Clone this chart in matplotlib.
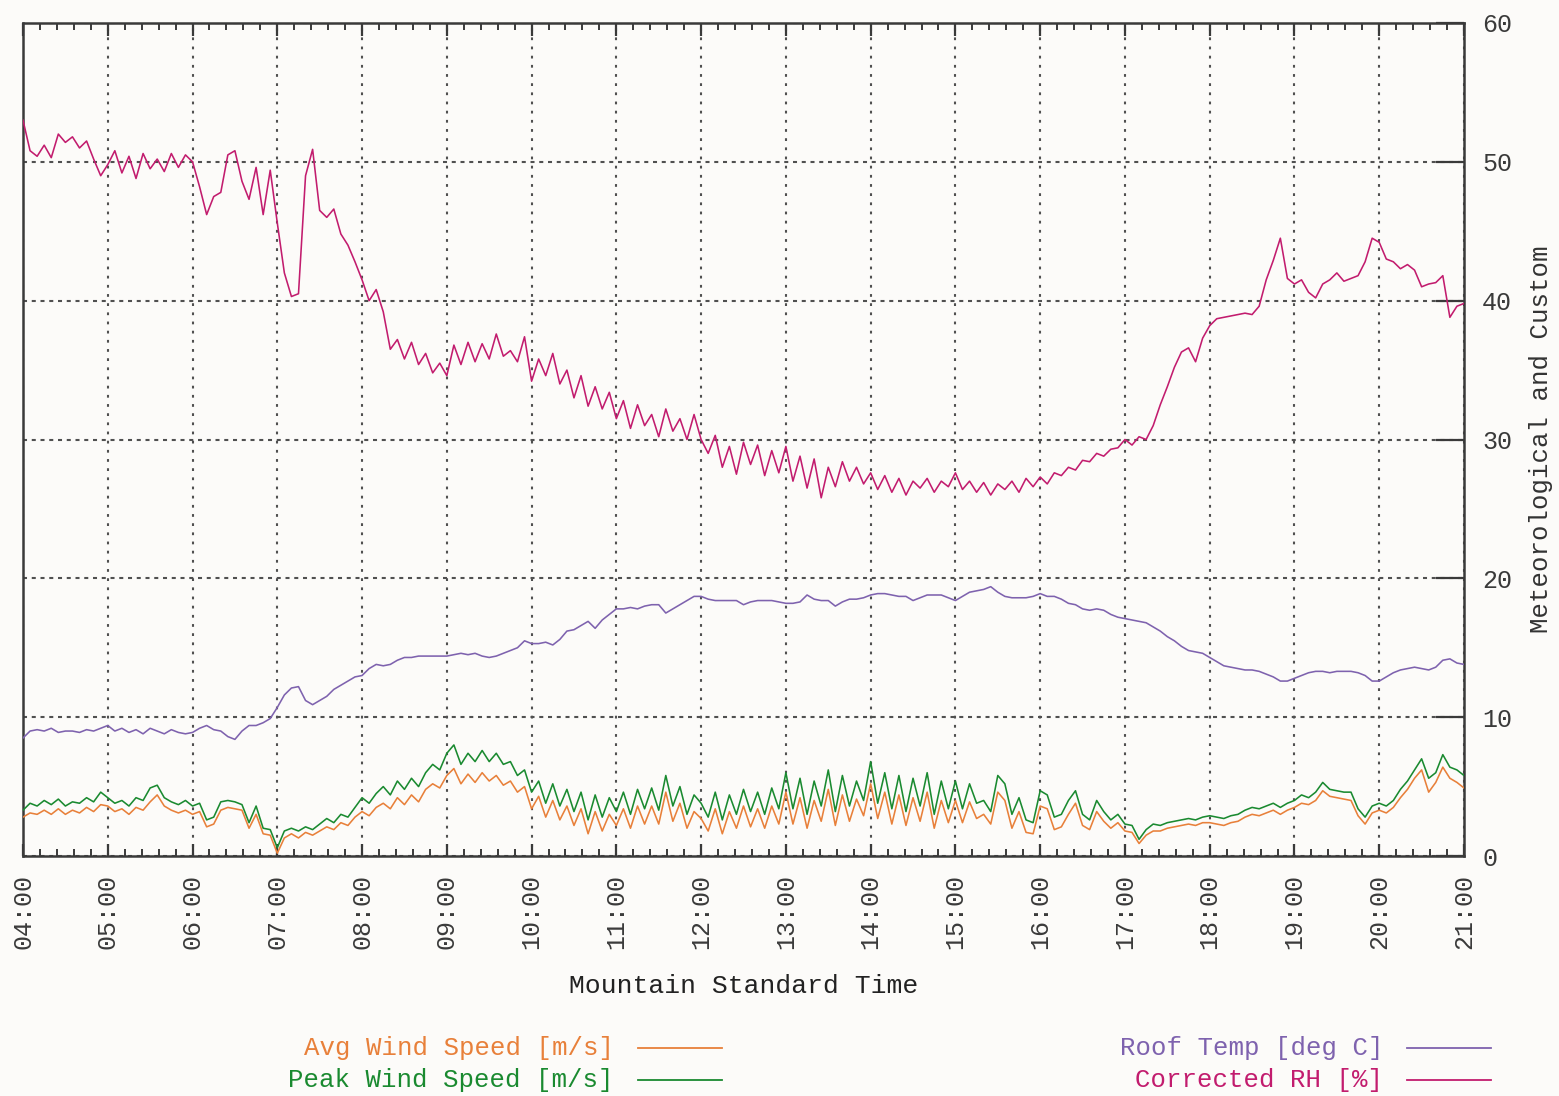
import numpy as np
import matplotlib
matplotlib.use("Agg")
import matplotlib.pyplot as plt
from matplotlib.lines import Line2D

# ---- data: 5-minute samples from 04:00 to 21:00 (Mountain Standard Time) ----
start_hour = 4
step_min = 5

corrected_rh = [
    53.0, 50.8, 50.4, 51.2, 50.3, 52.0, 51.4, 51.8, 51.0, 51.5, 50.2, 49.0,
    49.8, 50.8, 49.2, 50.4, 48.8, 50.6, 49.5, 50.2, 49.3, 50.6, 49.6, 50.5,
    50.0, 48.2, 46.2, 47.5, 47.8, 50.5, 50.8, 48.6, 47.3, 49.6, 46.2, 49.4,
    45.6, 42.0, 40.3, 40.5, 49.0, 50.9, 46.5, 46.0, 46.6, 44.8, 44.0, 42.8,
    41.5, 40.0, 40.8, 39.2, 36.5, 37.2, 35.8, 37.0, 35.4, 36.2, 34.8, 35.5,
    34.6, 36.8, 35.4, 37.0, 35.6, 36.9, 35.8, 37.6, 36.0, 36.4, 35.6, 37.4,
    34.2, 35.8, 34.6, 36.2, 34.0, 35.0, 33.0, 34.6, 32.4, 33.8, 32.2, 33.4,
    31.5, 32.8, 30.8, 32.5, 31.0, 31.8, 30.2, 32.2, 30.6, 31.5, 30.0, 31.8,
    30.0, 29.0, 30.3, 28.0, 29.5, 27.5, 29.8, 28.2, 29.6, 27.4, 29.2, 27.6,
    29.5, 27.0, 28.8, 26.5, 28.6, 25.8, 28.0, 26.6, 28.4, 27.0, 28.0, 26.8,
    27.6, 26.4, 27.4, 26.2, 27.2, 26.0, 27.0, 26.5, 27.2, 26.2, 27.0, 26.6,
    27.6, 26.4, 27.0, 26.2, 26.9, 26.0, 26.8, 26.4, 27.0, 26.2, 27.2, 26.6,
    27.3, 26.8, 27.6, 27.4, 28.0, 27.8, 28.5, 28.4, 29.0, 28.8, 29.3, 29.4,
    30.0, 29.6, 30.2, 30.0, 31.0, 32.5, 33.8, 35.2, 36.3, 36.6, 35.6, 37.3,
    38.2, 38.7, 38.8, 38.9, 39.0, 39.1, 39.0, 39.6, 41.5, 42.9, 44.5, 41.6,
    41.2, 41.5, 40.6, 40.2, 41.2, 41.5, 42.0, 41.4, 41.6, 41.8, 42.8, 44.5,
    44.2, 43.0, 42.8, 42.3, 42.6, 42.2, 41.0, 41.2, 41.3, 41.8, 38.8, 39.6,
    39.8,
]

roof_temp = [
    8.5, 9.0, 9.1, 9.0, 9.2, 8.9, 9.0, 9.0, 8.9, 9.1, 9.0, 9.2,
    9.4, 9.0, 9.2, 8.9, 9.1, 8.8, 9.2, 9.0, 8.8, 9.1, 8.9, 8.8,
    8.9, 9.2, 9.4, 9.1, 9.0, 8.6, 8.4, 9.0, 9.4, 9.4, 9.6, 9.9,
    10.7, 11.6, 12.1, 12.2, 11.2, 10.9, 11.2, 11.5, 12.0, 12.3, 12.6, 12.9,
    13.0, 13.5, 13.8, 13.7, 13.8, 14.1, 14.3, 14.3, 14.4, 14.4, 14.4, 14.4,
    14.4, 14.5, 14.6, 14.5, 14.6, 14.4, 14.3, 14.4, 14.6, 14.8, 15.0, 15.5,
    15.3, 15.3, 15.4, 15.2, 15.6, 16.2, 16.3, 16.6, 16.9, 16.4, 17.0, 17.4,
    17.8, 17.8, 17.9, 17.8, 18.0, 18.1, 18.1, 17.5, 17.8, 18.1, 18.4, 18.7,
    18.7, 18.5, 18.4, 18.4, 18.4, 18.4, 18.1, 18.3, 18.4, 18.4, 18.4, 18.3,
    18.2, 18.2, 18.3, 18.8, 18.5, 18.4, 18.4, 18.0, 18.3, 18.5, 18.5, 18.6,
    18.8, 18.9, 18.9, 18.8, 18.7, 18.7, 18.4, 18.6, 18.8, 18.8, 18.8, 18.6,
    18.4, 18.7, 19.0, 19.1, 19.2, 19.4, 19.0, 18.7, 18.6, 18.6, 18.6, 18.7,
    18.9, 18.7, 18.7, 18.5, 18.2, 18.1, 17.8, 17.7, 17.8, 17.7, 17.4, 17.2,
    17.1, 17.0, 16.9, 16.8, 16.5, 16.2, 15.8, 15.5, 15.1, 14.8, 14.7, 14.6,
    14.3, 14.0, 13.7, 13.6, 13.5, 13.4, 13.4, 13.3, 13.1, 12.9, 12.6, 12.6,
    12.8, 13.0, 13.2, 13.3, 13.3, 13.2, 13.3, 13.3, 13.3, 13.2, 13.0, 12.6,
    12.6, 12.9, 13.2, 13.4, 13.5, 13.6, 13.5, 13.4, 13.6, 14.1, 14.2, 13.9,
    13.8,
]

peak_wind = [
    3.3, 3.8, 3.6, 4.0, 3.7, 4.1, 3.6, 3.9, 3.8, 4.2, 3.9, 4.6,
    4.2, 3.8, 4.0, 3.6, 4.2, 4.0, 4.9, 5.1, 4.2, 3.9, 3.7, 4.0,
    3.6, 3.8, 2.6, 2.8, 3.9, 4.0, 3.9, 3.7, 2.4, 3.6, 2.0, 1.9,
    0.6, 1.8, 2.0, 1.8, 2.1, 1.9, 2.3, 2.7, 2.4, 3.0, 2.8, 3.5,
    4.2, 3.8, 4.5, 5.0, 4.4, 5.4, 4.8, 5.6, 5.0, 6.0, 6.6, 6.2,
    7.4, 8.0, 6.6, 7.4, 6.8, 7.6, 6.8, 7.4, 6.6, 6.8, 5.8, 6.2,
    4.6, 5.4, 3.8, 5.2, 3.6, 4.8, 3.2, 4.6, 2.6, 4.4, 2.8, 4.2,
    3.2, 4.6, 3.0, 4.8, 3.4, 4.9, 3.3, 5.8, 3.6, 5.0, 3.0, 4.4,
    3.8, 2.8, 4.6, 2.6, 4.4, 3.0, 4.8, 3.2, 4.6, 3.0, 4.9, 3.4,
    6.0, 3.4, 5.6, 3.0, 5.4, 3.6, 6.2, 3.2, 5.8, 3.6, 5.4, 4.0,
    6.8, 3.8, 6.0, 3.4, 5.8, 3.2, 5.6, 3.6, 6.0, 3.0, 5.4, 3.4,
    5.4, 3.4, 5.2, 3.8, 4.0, 3.2, 5.8, 5.2, 3.0, 4.2, 2.6, 2.4,
    4.7, 4.4, 2.8, 3.0, 4.0, 4.7, 3.0, 2.6, 4.0, 3.2, 2.6, 3.0,
    2.3, 2.2, 1.2, 1.9, 2.3, 2.2, 2.4, 2.5, 2.6, 2.7, 2.6, 2.8,
    2.9, 2.8, 2.7, 2.9, 3.0, 3.3, 3.5, 3.4, 3.6, 3.8, 3.5, 3.8,
    4.0, 4.4, 4.2, 4.6, 5.3, 4.8, 4.7, 4.6, 4.6, 3.4, 2.8, 3.6,
    3.8, 3.6, 4.0, 4.8, 5.4, 6.2, 7.0, 5.6, 6.0, 7.3, 6.4, 6.2,
    5.8,
]

avg_wind = [
    2.8, 3.1, 3.0, 3.3, 3.0, 3.4, 3.0, 3.3, 3.1, 3.5, 3.2, 3.7,
    3.6, 3.2, 3.4, 3.0, 3.5, 3.3, 3.9, 4.4, 3.6, 3.3, 3.1, 3.3,
    3.0, 3.2, 2.1, 2.3, 3.3, 3.5, 3.4, 3.3, 2.0, 3.0, 1.6, 1.5,
    0.2, 1.3, 1.6, 1.3, 1.7, 1.5, 1.8, 2.1, 1.9, 2.4, 2.2, 2.8,
    3.2, 2.9, 3.5, 3.8, 3.4, 4.2, 3.7, 4.4, 3.9, 4.8, 5.2, 4.9,
    5.8, 6.3, 5.2, 5.9, 5.3, 6.0, 5.4, 5.8, 5.1, 5.4, 4.6, 5.0,
    3.4, 4.3, 2.8, 4.0, 2.6, 3.6, 2.2, 3.4, 1.6, 3.2, 1.8, 3.0,
    2.2, 3.4, 2.0, 3.6, 2.3, 3.6, 2.3, 4.6, 2.5, 3.8, 2.0, 3.2,
    2.7, 1.8, 3.4, 1.6, 3.2, 2.0, 3.6, 2.1, 3.4, 2.0, 3.6, 2.3,
    4.6, 2.3, 4.2, 2.0, 4.0, 2.5, 4.8, 2.2, 4.4, 2.5, 4.1, 2.9,
    5.2, 2.7, 4.6, 2.3, 4.4, 2.2, 4.2, 2.5, 4.6, 2.0, 4.0, 2.4,
    4.0, 2.4, 3.9, 2.7, 3.0, 2.3, 4.6, 4.0, 2.0, 3.2, 1.7, 1.6,
    3.6, 3.4, 1.9, 2.1, 3.0, 3.8, 2.2, 1.9, 3.2, 2.5, 2.0, 2.4,
    1.8, 1.7, 0.9, 1.5, 1.8, 1.8, 2.0, 2.1, 2.2, 2.3, 2.2, 2.4,
    2.4, 2.3, 2.2, 2.4, 2.5, 2.8, 3.0, 2.9, 3.1, 3.3, 3.0, 3.3,
    3.5, 3.8, 3.7, 4.0, 4.7, 4.3, 4.2, 4.1, 4.0, 2.9, 2.3, 3.1,
    3.3, 3.1, 3.5, 4.2, 4.8, 5.6, 6.2, 4.6, 5.3, 6.4, 5.6, 5.3,
    4.9,
]

hour_labels = ["04:00", "05:00", "06:00", "07:00", "08:00", "09:00",
               "10:00", "11:00", "12:00", "13:00", "14:00", "15:00",
               "16:00", "17:00", "18:00", "19:00", "20:00", "21:00"]
y_ticks = [0, 10, 20, 30, 40, 50, 60]

legend_left = ["Avg Wind Speed [m/s]", "Peak Wind Speed [m/s]"]
legend_right = ["Roof Temp [deg C]", "Corrected RH [%]"]

# ---- styling ----
C_AVG = "#e8803a"
C_PEAK = "#1a8a30"
C_TEMP = "#7e62ae"
C_RH = "#c21c6e"
INK = "#3a3a3a"
BG = "#fcfbf9"
FONT = "Liberation Mono"
FS = 18.5

plt.rcParams["lines.scale_dashes"] = False
plt.rcParams["font.family"] = [FONT, "DejaVu Sans Mono"]

hours = start_hour + np.arange(len(corrected_rh)) * step_min / 60.0

fig = plt.figure(figsize=(15.59, 10.96), dpi=100, facecolor=BG)
ax = fig.add_axes([23 / 1559, 1 - 856 / 1096, (1464 - 23) / 1559, (856 - 23) / 1096])
ax.set_facecolor(BG)

lw = 1.15
ax.plot(hours, avg_wind, color=C_AVG, lw=lw, zorder=3)
ax.plot(hours, peak_wind, color=C_PEAK, lw=lw, zorder=4)
ax.plot(hours, roof_temp, color=C_TEMP, lw=lw, zorder=3)
ax.plot(hours, corrected_rh, color=C_RH, lw=lw, zorder=3)

ax.set_xlim(start_hour, start_hour + len(hour_labels) - 1)
ax.set_ylim(y_ticks[0], y_ticks[-1])

# x axis: hourly majors, 12-minute minors, ticks on top and bottom
major_x = np.arange(start_hour, start_hour + len(hour_labels))
ax.set_xticks(major_x)
ax.set_xticklabels(hour_labels, rotation=90, fontsize=18, color=INK)
ax.set_xticks(np.arange(start_hour, major_x[-1] + 1e-9, 0.2), minor=True)
ax.tick_params(axis="x", which="major", direction="in", length=9, width=1.6,
               color=INK, top=True, bottom=True, pad=13)
ax.tick_params(axis="x", which="minor", direction="in", length=5, width=1.4,
               color=INK, top=True, bottom=True)

# y axis on the right
ax.yaxis.tick_right()
ax.set_yticks(y_ticks)
ax.set_yticklabels([str(v) for v in y_ticks], fontsize=18, color=INK)
ax.tick_params(axis="y", which="major", direction="in", length=20, width=1.6,
               color=INK, right=True, left=False, pad=13)

ax.grid(True, axis="x", color="#505050", lw=1.5, linestyle=(0, (2.0, 4.6)))
ax.grid(True, axis="y", color="#505050", lw=1.5, linestyle=(0, (2.9, 3.4)))
ax.set_axisbelow(True)

for s in ax.spines.values():
    s.set_color(INK)
    s.set_linewidth(1.8)

ax.set_xlabel("Mountain Standard Time", fontsize=FS + 0.5, color="#222222", labelpad=18)
ax.yaxis.set_label_position("right")
ax.set_ylabel("Meteorological and Custom", fontsize=FS, color="#333333", labelpad=12)

# ---- legend below the plot, two columns ----
def legend_entry(text_right_px, y_px, label, color):
    fy = 1 - y_px / 1096
    fig.text(text_right_px / 1559, fy, label, ha="right", va="center",
             fontsize=FS, color=color)
    x0 = (text_right_px + 24) / 1559
    x1 = (text_right_px + 108) / 1559
    fig.add_artist(Line2D([x0, x1], [fy, fy], color=color, lw=1.3,
                          transform=fig.transFigure))

legend_entry(614, 1048, legend_left[0], C_AVG)
legend_entry(614, 1080, legend_left[1], C_PEAK)
legend_entry(1383, 1048, legend_right[0], C_TEMP)
legend_entry(1383, 1080, legend_right[1], C_RH)

fig.savefig("out.png", dpi=100, facecolor=BG)
